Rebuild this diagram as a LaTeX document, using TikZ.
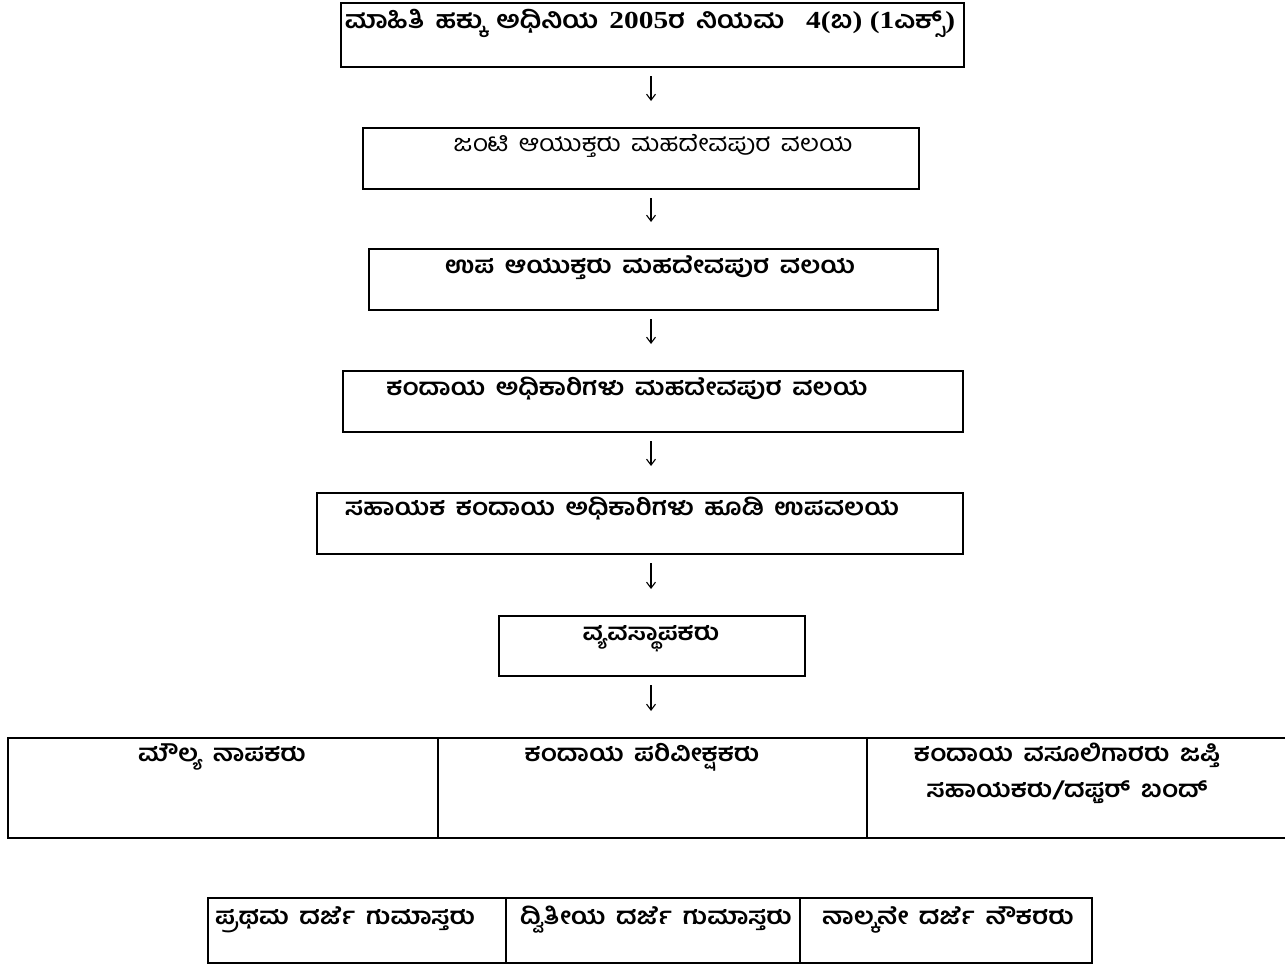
\documentclass[tikz,border=0pt]{standalone}
\usepackage{fontspec}
\usetikzlibrary{arrows.meta}
\newfontfamily\kn[Script=Kannada,FakeStretch=1.12,WordSpace=1.6]{Hind Mysuru}
\newfontfamily\ser[FakeStretch=1.2]{Liberation Serif}
\begin{document}
\begin{tikzpicture}[x=1pt,y=-1pt,
  box/.style={draw, line width=2pt, inner sep=0pt, anchor=north west},
  lbl/.style={inner sep=0pt, anchor=base, font=\kn\bfseries\fontsize{23.5}{30}\selectfont},
  lblw/.style={inner sep=0pt, anchor=base west, font=\kn\bfseries\fontsize{23.5}{30}\selectfont},
  arr/.style={line width=1.1pt, -{Straight Barb[length=6pt,width=9pt]}, shorten <=8pt, shorten >=26pt}]
\useasboundingbox (0,0) rectangle (1285,964);
\coordinate (ax) at (651,0);
% boxes
\node[box, minimum width=623pt, minimum height=64pt] (b1) at (340,2) {};
\node[box, minimum width=556pt, minimum height=61pt] (b2) at (362,127) {};
\node[box, minimum width=569pt, minimum height=61pt] (b3) at (368,248) {};
\node[box, minimum width=620pt, minimum height=61pt] (b4) at (342,370) {};
\node[box, minimum width=646pt, minimum height=61pt] (b5) at (316,492) {};
\node[box, minimum width=306pt, minimum height=60pt] (b6) at (498,615) {};
\node[box, minimum width=430pt, minimum height=100pt] (c1) at (7,737) {};
\node[box, minimum width=429pt, minimum height=100pt] (c2) at (437,737) {};
\node[box, minimum width=423pt, minimum height=100pt] (c3) at (866,737) {};
\node[box, minimum width=298pt, minimum height=65pt] (d1) at (207,897) {};
\node[box, minimum width=294pt, minimum height=65pt] (d2) at (505,897) {};
\node[box, minimum width=292pt, minimum height=65pt] (d3) at (799,897) {};
% labels
\node[lbl, font=\kn\bfseries\fontsize{24.5}{30}\selectfont] (t1) at (650,28) {ಮಾಹಿತಿ ಹಕ್ಕು ಅಧಿನಿಯ {\ser 2005}ರ ನಿಯಮ \ {\ser 4(}ಬ{\ser ) (1}ಎಕ್ಸ್{\ser )}};
\node[lbl, font=\kn\fontsize{23.5}{30}\selectfont] (t2) at (653,151) {ಜಂಟಿ ಆಯುಕ್ತರು ಮಹದೇವಪುರ ವಲಯ};
\node[lbl] (t3) at (650,273) {ಉಪ ಆಯುಕ್ತರು ಮಹದೇವಪುರ ವಲಯ};
\node[lbl] (t4) at (627,395) {ಕಂದಾಯ ಅಧಿಕಾರಿಗಳು ಮಹದೇವಪುರ ವಲಯ};
\node[lbl] (t5) at (622,515) {ಸಹಾಯಕ ಕಂದಾಯ ಅಧಿಕಾರಿಗಳು ಹೂಡಿ ಉಪವಲಯ};
\node[lbl] (t6) at (651,640) {ವ್ಯವಸ್ಥಾಪಕರು};
\node[lbl] (u1) at (222,761) {ಮೌಲ್ಯ ನಾಪಕರು};
\node[lbl] (u2) at (642,761) {ಕಂದಾಯ ಪರಿವೀಕ್ಷಕರು};
\node[lbl] (u3) at (1067,761) {ಕಂದಾಯ ವಸೂಲಿಗಾರರು ಜಪ್ತಿ};
\node[lbl] (u4) at (1067,797) {ಸಹಾಯಕರು/ದಫ್ತರ್ ಬಂದ್};
\node[lblw] (v1) at (215,924) {ಪ್ರಥಮ ದರ್ಜೆ ಗುಮಾಸ್ತರು};
\node[lblw] (v2) at (520,924) {ದ್ವಿತೀಯ ದರ್ಜೆ ಗುಮಾಸ್ತರು};
\node[lblw] (v3) at (822,924) {ನಾಲ್ಕನೇ ದರ್ಜೆ ನೌಕರರು};
% arrows
\draw[arr] (b1.south -| ax) -- (b2.north -| ax);
\draw[arr] (b2.south -| ax) -- (b3.north -| ax);
\draw[arr] (b3.south -| ax) -- (b4.north -| ax);
\draw[arr] (b4.south -| ax) -- (b5.north -| ax);
\draw[arr] (b5.south -| ax) -- (b6.north -| ax);
\draw[arr] (b6.south -| ax) -- (c2.north -| ax);
\end{tikzpicture}
\end{document}
